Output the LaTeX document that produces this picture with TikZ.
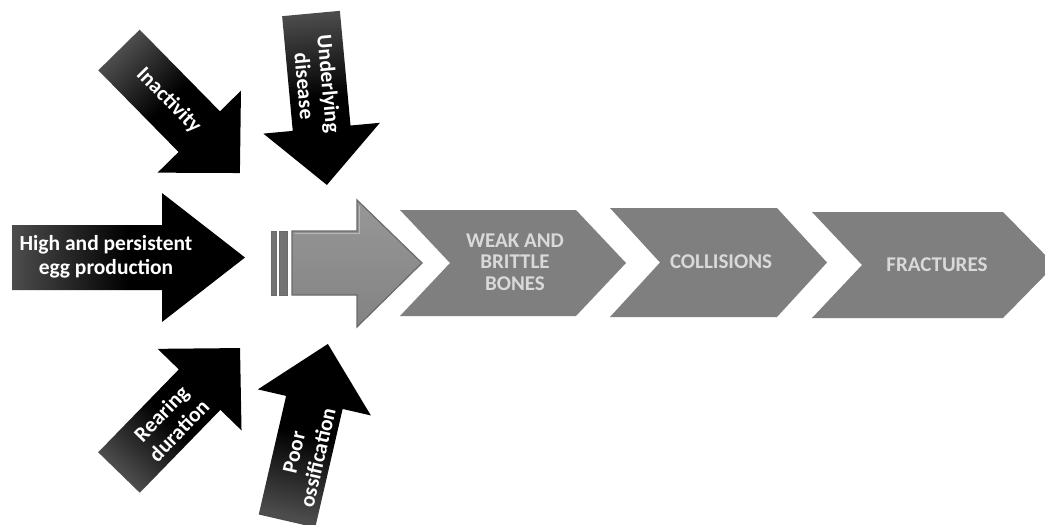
\documentclass[tikz,border=0pt]{standalone}
\usepackage{fontspec}
\setmainfont{Carlito}
\definecolor{chevgray}{HTML}{7F7F7F}
\definecolor{chevtxt}{HTML}{D9D9D9}
\definecolor{graylight}{HTML}{979797}
\definecolor{graydark}{HTML}{838383}
\definecolor{grayedge}{HTML}{6A6A6A}
\definecolor{stripe}{HTML}{737373}
\newcommand\blkarrow[7]{%
  \pgfmathsetmacro\shang{#3-90}%
  \shade[top color=black, bottom color=black!70, middle color=black, shading angle=\shang,
    shift={(#1,#2)}, rotate=#3]
    (0,-#5) -- ({#4-#7},-#5) -- ({#4-#7},-#6) -- (#4,0) -- ({#4-#7},#6) -- ({#4-#7},#5) -- (0,#5) -- cycle;}
\begin{document}
\begin{tikzpicture}[x=1pt,y=-1pt,
  chev/.style={fill=chevgray},
  chevtext/.style={text=chevtxt, font=\bfseries\fontsize{21}{21.5}\selectfont, align=center, inner sep=0pt},
  arrtext/.style={text=white, font=\bfseries\fontsize{21.5}{24.5}\selectfont, align=center, inner sep=0pt},
  grayarrow/.style={top color=graylight, bottom color=graydark, draw=grayedge, line width=1.2pt},
  stripebar/.style={fill=stripe, draw=grayedge, line width=0.6pt}]
\useasboundingbox (0,0) rectangle (1045,525);
\clip (0,0) rectangle (1045,525);
\fill[white] (0,0) rectangle (1045,525);

% chevrons
\fill[chev] (400,210) -- (576,210) -- (626,263) -- (576,316) -- (400,316) -- (450,263) -- cycle;
\fill[chev] (610,208) -- (777,208) -- (827,262.5) -- (777,317) -- (610,317) -- (660,262.5) -- cycle;
\fill[chev] (812,212) -- (1003,212) -- (1055,265) -- (1003,318) -- (812,318) -- (862,265) -- cycle;
\node[chevtext] (weak) at (515,262) {WEAK AND\\BRITTLE\\BONES};
\node[chevtext] (coll) at (721,262) {COLLISIONS};
\node[chevtext] (frac) at (937,265) {FRACTURES};

% gray arrow
\filldraw[stripebar] (271.5,231) rectangle (276,295);
\filldraw[stripebar] (279.5,231) rectangle (287,295);
\shade[grayarrow] (292,231) -- (357,231) -- (357,200) -- (422,263) -- (357,327) -- (357,295) -- (292,295) -- cycle;
\draw[white, opacity=0.35, line width=0.8pt] (294.5,233.5) -- (359.5,233.5) -- (359.5,206);

% black arrows
\blkarrow{12}{257.5}{0}{233}{32.5}{64.5}{83}
\blkarrow{119}{50}{-45.5}{172.5}{29}{58.5}{58}
\blkarrow{311}{13.5}{-84.7}{172.2}{29}{58.5}{57}
\blkarrow{119}{472.5}{45.8}{173.6}{29}{58.5}{58}
\blkarrow{287}{521}{77}{181.7}{29}{58}{60}

\node[arrtext] (egg) at (106,257) {High and persistent\\egg production};
\node[arrtext, rotate=-45.5] (inact) at (168.8,100.6) {Inactivity};
\node[arrtext, rotate=-84.7] (under) at (317,85) {Underlying\\disease};
\node[arrtext, rotate=45.8] (rear) at (170,422) {Rearing\\duration};
\node[arrtext, rotate=77] (poor) at (306,455) {Poor\\ossification};
\end{tikzpicture}
\end{document}
